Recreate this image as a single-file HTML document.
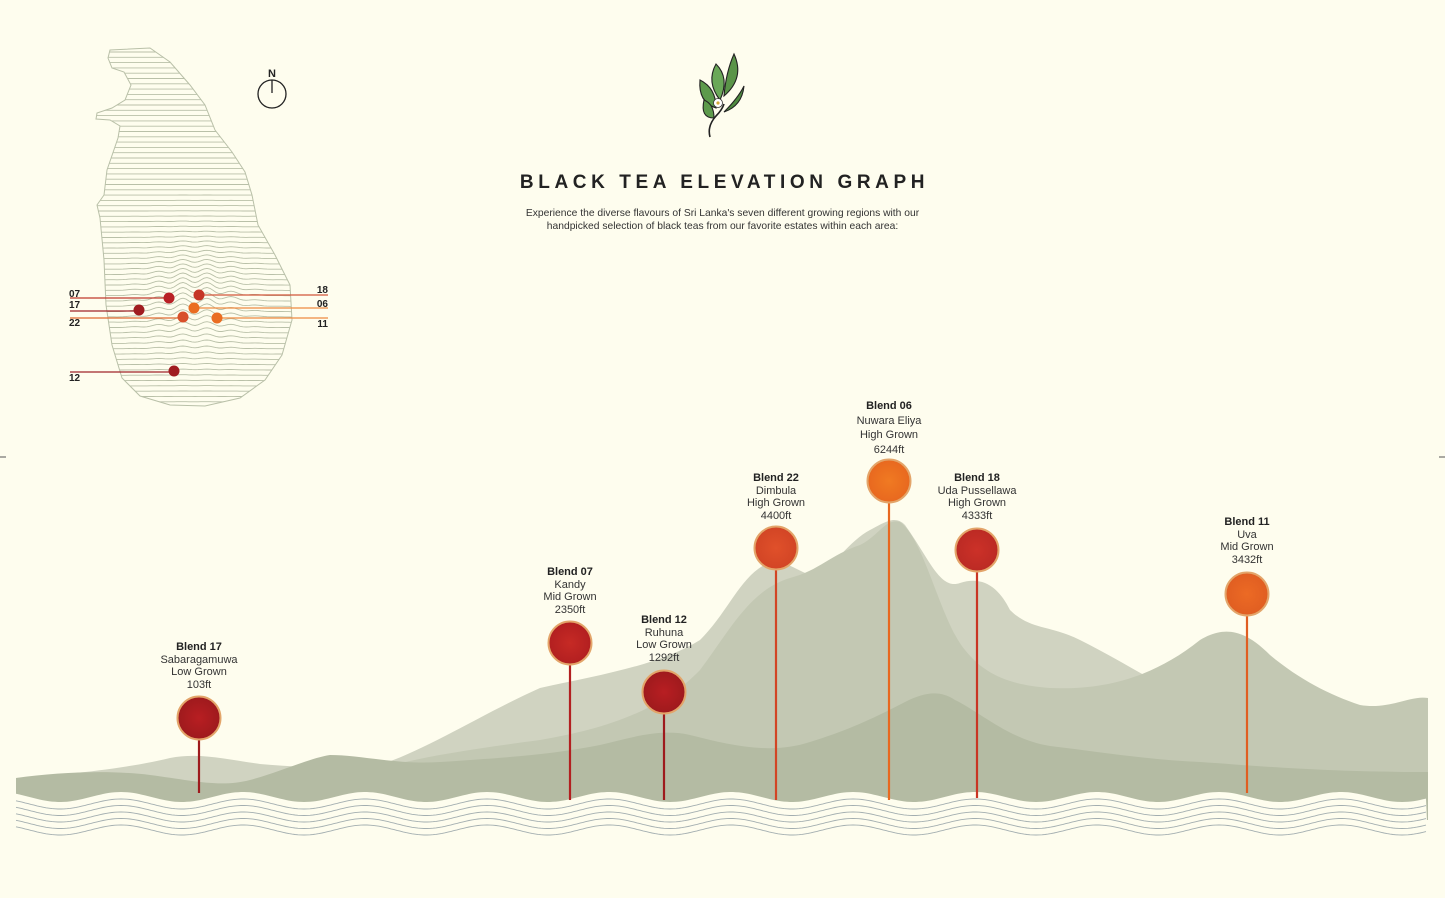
<!DOCTYPE html>
<html><head><meta charset="utf-8"><style>
html,body{margin:0;padding:0;background:#FEFDEE;}
body{width:1445px;height:898px;overflow:hidden;position:relative;font-family:"Liberation Sans",sans-serif;}
.t{position:absolute;text-align:center;color:#333;font-size:11px;line-height:12.5px;width:140px}
.t b{color:#222}
</style></head><body>
<svg width="1445" height="898" style="position:absolute;left:0;top:0">
<defs>
<clipPath id="isl"><path d="M110,50 L150,48 L170,62 L190,85 L205,105 L215,130 L232,152 L245,172 L252,195 L258,225 L275,255 L290,285 L292,320 L282,355 L265,380 L240,398 L205,406 L170,405 L140,396 L122,378 L112,345 L106,305 L104,260 L100,218 L97,205 L104,195 L107,170 L118,138 L120,126 L110,120 L96,119 L97,113 L112,108 L125,100 L131,85 L124,72 L112,68 L108,58 Z"/></clipPath>
<radialGradient id="g1"><stop offset="0" stop-color="#b81e22"/><stop offset="1" stop-color="#9e1a1d"/></radialGradient>
<radialGradient id="g2"><stop offset="0" stop-color="#c62a25"/><stop offset="1" stop-color="#b21f20"/></radialGradient>
<radialGradient id="g3"><stop offset="0" stop-color="#e0502a"/><stop offset="1" stop-color="#d24525"/></radialGradient>
<radialGradient id="g4"><stop offset="0" stop-color="#f07a22"/><stop offset="1" stop-color="#e8681f"/></radialGradient>
<radialGradient id="g5"><stop offset="0" stop-color="#cc3128"/><stop offset="1" stop-color="#bb2a24"/></radialGradient>
<radialGradient id="g6"><stop offset="0" stop-color="#ec6a24"/><stop offset="1" stop-color="#e05e22"/></radialGradient>
</defs>
<path d="M110,50 L150,48 L170,62 L190,85 L205,105 L215,130 L232,152 L245,172 L252,195 L258,225 L275,255 L290,285 L292,320 L282,355 L265,380 L240,398 L205,406 L170,405 L140,396 L122,378 L112,345 L106,305 L104,260 L100,218 L97,205 L104,195 L107,170 L118,138 L120,126 L110,120 L96,119 L97,113 L112,108 L125,100 L131,85 L124,72 L112,68 L108,58 Z" fill="none" stroke="#b9c0a8" stroke-width="1"/>
<g clip-path="url(#isl)" stroke="#b9c0a8" stroke-width="0.9" fill="none" id="lines"></g>
<circle cx="272" cy="94" r="14" fill="none" stroke="#222" stroke-width="1.3"/>
<line x1="272" y1="80" x2="272" y2="93" stroke="#222" stroke-width="1.3"/>
<text x="272" y="77" text-anchor="middle" font-family="Liberation Sans" font-weight="bold" font-size="11" fill="#222">N</text>
<g stroke-width="1.2">
<line x1="70" y1="298" x2="169" y2="298" stroke="#c0392b"/>
<line x1="70" y1="311" x2="139" y2="311" stroke="#a0242a"/>
<line x1="70" y1="318" x2="183" y2="318" stroke="#e06a30"/>
<line x1="70" y1="372" x2="174" y2="372" stroke="#a0242a"/>
<line x1="199" y1="295" x2="328" y2="295" stroke="#d2553a"/>
<line x1="194" y1="308" x2="328" y2="308" stroke="#ee8a40"/>
<line x1="217" y1="318" x2="328" y2="318" stroke="#ee8a40"/>
</g>
<circle cx="169" cy="298" r="5.5" fill="#b82025"/>
<circle cx="199" cy="295" r="5.5" fill="#c53526"/>
<circle cx="139" cy="310" r="5.5" fill="#a01c20"/>
<circle cx="194" cy="308" r="5.5" fill="#ea6d22"/>
<circle cx="183" cy="317" r="5.5" fill="#d8502a"/>
<circle cx="217" cy="318" r="5.5" fill="#ea6d22"/>
<circle cx="174" cy="371" r="5.5" fill="#a01c20"/>
<g font-family="Liberation Sans" font-weight="bold" font-size="10" fill="#222">
<text x="69" y="297">07</text><text x="69" y="308">17</text><text x="69" y="326">22</text><text x="69" y="381">12</text>
<text x="328" y="293" text-anchor="end">18</text><text x="328" y="307" text-anchor="end">06</text><text x="328" y="327" text-anchor="end">11</text>
</g>
<g stroke="#222" stroke-width="1.1">
<path d="M710,137 Q707,126 716,116 Q722,110 724,104" fill="none" stroke-width="1.6"/>
<path d="M716,108 Q698,102 700,80 Q716,88 716,108Z" fill="#5d9a4c"/>
<path d="M720,100 Q706,82 716,64 Q730,78 720,100Z" fill="#6aa858"/>
<path d="M724,96 Q726,72 734,54 Q745,78 724,96Z" fill="#5a9448"/>
<path d="M724,112 Q738,98 744,86 Q742,106 724,112Z" fill="#4f8a40"/>
<path d="M714,118 Q700,118 704,100 Q714,104 714,118Z" fill="#5d9a4c"/>
</g>
<circle cx="718" cy="103" r="4.5" fill="#fff" stroke="#333" stroke-width="0.8"/>
<circle cx="718" cy="103" r="1.6" fill="#d4a93a"/>
<path d="M16,778 C60,775 120,770 170,758 C200,752 230,760 260,764 C310,768 350,770 380,765 C430,748 480,715 540,688 C600,675 660,665 700,640 C730,610 740,575 770,562 C790,560 800,575 818,576 C830,570 850,540 870,530 C885,522 895,515 905,525 C930,560 940,590 960,583 C985,575 1000,590 1010,610 C1030,630 1050,625 1080,640 C1120,660 1150,680 1170,688 C1180,690 1190,700 1200,710 L1428,710 L1428,820 L16,820 Z" fill="#d0d3c1"/>
<path d="M380,768 C430,755 480,748 540,740 C600,730 660,712 700,670 C730,630 750,590 790,578 C820,570 830,555 860,545 C880,535 885,518 900,522 C925,540 940,620 965,650 C985,675 1010,685 1050,688 C1100,690 1150,680 1200,640 C1225,625 1245,630 1270,655 C1300,680 1330,695 1360,705 C1390,710 1410,695 1428,698 L1428,820 L380,820 Z" fill="#c3c8b3"/>
<path d="M16,778 C60,772 110,770 150,775 C190,780 220,788 250,780 C280,772 310,758 330,755 C360,755 400,765 440,762 C500,758 550,755 600,745 C630,738 660,728 690,735 C730,745 770,755 810,742 C850,730 880,715 905,702 C925,692 940,690 955,700 C980,712 1010,740 1050,746 C1100,752 1150,760 1200,762 C1260,766 1320,772 1428,772 L1428,820 L16,820 Z" fill="#b4bba3"/>
<g id="waves"></g>
<g stroke-width="2.2">
<line x1="199" y1="740" x2="199" y2="793" stroke="#9e1a1d"/>
<line x1="570" y1="665" x2="570" y2="800" stroke="#b21f20"/>
<line x1="664" y1="714" x2="664" y2="800" stroke="#9e1a1d"/>
<line x1="776" y1="570" x2="776" y2="800" stroke="#d24525"/>
<line x1="889" y1="503" x2="889" y2="800" stroke="#e8681f"/>
<line x1="977" y1="572" x2="977" y2="798" stroke="#c93524"/>
<line x1="1247" y1="616" x2="1247" y2="793" stroke="#e05e22"/>
</g>
<g stroke="#e3a56a" stroke-width="2">
<circle cx="199" cy="718" r="21.5" fill="url(#g1)"/>
<circle cx="570" cy="643" r="21.5" fill="url(#g2)"/>
<circle cx="664" cy="692" r="21.5" fill="url(#g1)"/>
<circle cx="776" cy="548" r="21.5" fill="url(#g3)"/>
<circle cx="889" cy="481" r="21.5" fill="url(#g4)"/>
<circle cx="977" cy="550" r="21.5" fill="url(#g5)"/>
<circle cx="1247" cy="594" r="21.5" fill="url(#g6)"/>
</g>
<line x1="0" y1="457" x2="6" y2="457" stroke="#555"/>
<line x1="1439" y1="457" x2="1445" y2="457" stroke="#555"/>
</svg>
<div style="position:absolute;left:0;top:172px;width:1445px;text-align:center;font-size:19px;font-weight:bold;letter-spacing:4.6px;color:#222;"><span style="position:relative;left:2px">BLACK TEA ELEVATION GRAPH</span></div>
<div style="position:absolute;left:505px;top:207px;width:435px;text-align:center;font-size:10.3px;line-height:13px;color:#333">Experience the diverse flavours of Sri Lanka's seven different growing regions with our handpicked selection of black teas from our favorite estates within each area:</div>
<div class="t" style="left:129px;top:641px"><b>Blend 17</b><br>Sabaragamuwa<br>Low Grown<br>103ft</div>
<div class="t" style="left:500px;top:566px"><b>Blend 07</b><br>Kandy<br>Mid Grown<br>2350ft</div>
<div class="t" style="left:594px;top:614px"><b>Blend 12</b><br>Ruhuna<br>Low Grown<br>1292ft</div>
<div class="t" style="left:706px;top:472px"><b>Blend 22</b><br>Dimbula<br>High Grown<br>4400ft</div>
<div class="t" style="left:819px;top:399px;line-height:14.5px"><b>Blend 06</b><br>Nuwara Eliya<br>High Grown<br>6244ft</div>
<div class="t" style="left:907px;top:472px"><b>Blend 18</b><br>Uda Pussellawa<br>High Grown<br>4333ft</div>
<div class="t" style="left:1177px;top:516px"><b>Blend 11</b><br>Uva<br>Mid Grown<br>3432ft</div>
<script>
(function(){
var NS="http://www.w3.org/2000/svg";
var g=document.getElementById('lines');
for(var y=52;y<408;y+=5.3){var d="M90,"+y.toFixed(1);for(var x=90;x<=300;x+=3){var dx=x-195;var a=Math.exp(-(dx*dx)/2000)*Math.exp(-((y-300)*(y-300))/2200);var w=-a*(6+3*Math.sin(x*0.25));d+=" L"+x+","+(y+w).toFixed(1);}var p=document.createElementNS(NS,'path');p.setAttribute('d',d);g.appendChild(p);}
var wv=document.getElementById('waves');
function wave(off){var d="";for(var x=16;x<=1428;x+=3){var y=off+5*Math.cos((x-60)*2*Math.PI/122);d+=(x==16?"M":"L")+x+","+y.toFixed(1)+" ";}return d;}
var tp=wave(797)+"L1428,845 L16,845 Z";
var p=document.createElementNS(NS,'path');p.setAttribute('d',tp);p.setAttribute('fill','#FEFDEE');wv.appendChild(p);
for(var i=0;i<5;i++){var q=document.createElementNS(NS,'path');q.setAttribute('d',wave(804+i*6.5));q.setAttribute('fill','none');q.setAttribute('stroke','#a3aeb0');q.setAttribute('stroke-width','0.9');wv.appendChild(q);}
})();
</script>
</body></html>
